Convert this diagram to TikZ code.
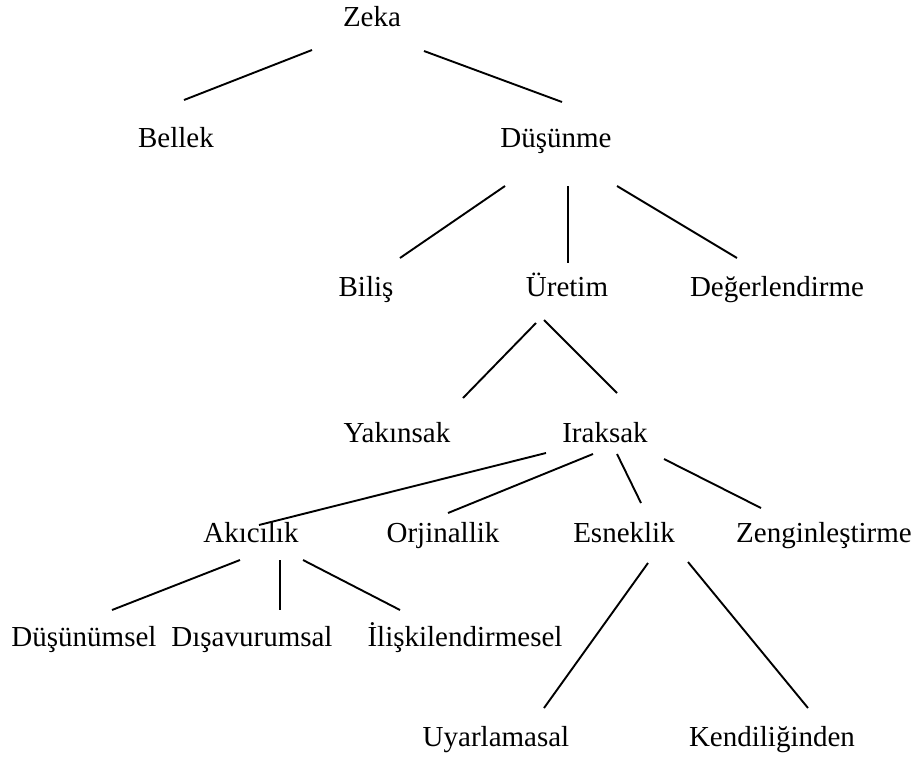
\documentclass[tikz,border=0pt]{standalone}
\usepackage{fontspec}
\setmainfont{Liberation Serif}
\newfontfamily\tnrfont{Liberation Serif}
\usetikzlibrary{calc}
\begin{document}
\begin{tikzpicture}[x=1pt,y=-1pt,
  lbl/.style={inner sep=0pt,anchor=base,font=\tnrfont\fontsize{29}{34}\selectfont},
  edge/.style={line width=1.9pt,line cap=butt}]
\useasboundingbox (0,0) rectangle (924,756);
\node[lbl] (zeka) at (372,26) {Zeka};
\node[lbl] (bellek) at (176,147) {Bellek};
\node[lbl] (dus) at (556,147) {Düşünme};
\node[lbl] (bilis) at (366,296) {Biliş};
\node[lbl] (uretim) at (567,296) {Üretim};
\node[lbl] (deger) at (777,296) {Değerlendirme};
\node[lbl] (yak) at (397,442) {Yakınsak};
\node[lbl] (irak) at (605,442) {Iraksak};
\node[lbl] (aki) at (251,542) {Akıcılık};
\node[lbl] (orj) at (443,542) {Orjinallik};
\node[lbl] (esn) at (624,542) {Esneklik};
\node[lbl] (zen) at (824,542) {Zenginleştirme};
\node[lbl] (dusun) at (84,646) {Düşünümsel};
\node[lbl] (disa) at (252,646) {Dışavurumsal};
\node[lbl] (ilis) at (465,646) {İlişkilendirmesel};
\node[lbl] (uyar) at (496,746) {Uyarlamasal};
\node[lbl] (kend) at (772,746) {Kendiliğinden};

\draw[edge] ($(zeka.base)+(-60,24)$) -- ($(bellek.base)+(8,-47)$);
\draw[edge] ($(zeka.base)+(52,25)$) -- ($(dus.base)+(6,-45)$);
\draw[edge] ($(dus.base)+(-51,39)$) -- ($(bilis.base)+(34,-38)$);
\draw[edge] ($(dus.base)+(12,39)$) -- ($(uretim.base)+(1,-33)$);
\draw[edge] ($(dus.base)+(61,39)$) -- ($(deger.base)+(-40,-38)$);
\draw[edge] ($(uretim.base)+(-31,27)$) -- ($(yak.base)+(66,-44)$);
\draw[edge] ($(uretim.base)+(-23,24)$) -- ($(irak.base)+(12,-49)$);
\draw[edge] ($(irak.base)+(-59,11)$) -- ($(aki.base)+(8,-17)$);
\draw[edge] ($(irak.base)+(-12,12)$) -- ($(orj.base)+(5,-29)$);
\draw[edge] ($(irak.base)+(12,12)$) -- ($(esn.base)+(17,-39)$);
\draw[edge] ($(irak.base)+(59,17)$) -- ($(zen.base)+(-63,-34)$);
\draw[edge] ($(aki.base)+(-11,18)$) -- ($(dusun.base)+(28,-36)$);
\draw[edge] ($(aki.base)+(29,18)$) -- ($(disa.base)+(28,-36)$);
\draw[edge] ($(aki.base)+(52,18)$) -- ($(ilis.base)+(-65,-36)$);
\draw[edge] ($(esn.base)+(24,21)$) -- ($(uyar.base)+(48,-38)$);
\draw[edge] ($(esn.base)+(64,20)$) -- ($(kend.base)+(36,-38)$);
\end{tikzpicture}
\end{document}
